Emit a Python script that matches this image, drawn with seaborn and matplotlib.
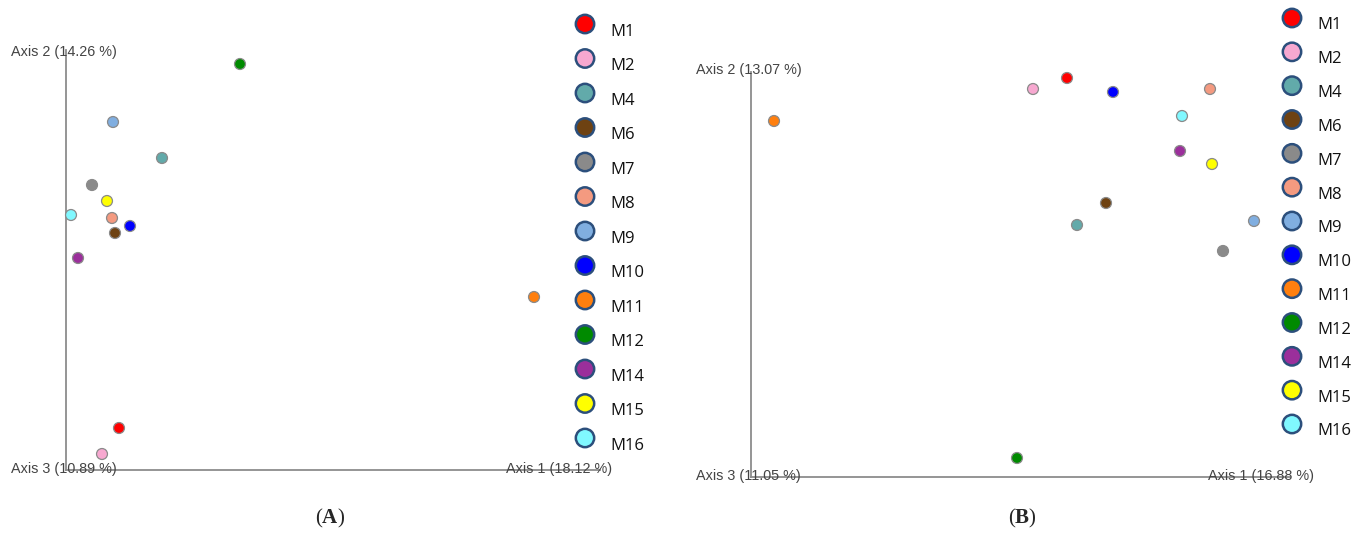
import numpy as np
import pandas as pd
import seaborn as sns
import matplotlib.pyplot as plt

sns.set_style("white")
plt.rcParams['font.family'] = ['Liberation Sans', 'DejaVu Sans']
plt.rcParams['mathtext.fontset'] = 'custom'
plt.rcParams['mathtext.rm'] = 'Liberation Serif'
plt.rcParams['mathtext.bf'] = 'Liberation Serif:bold'

samples = ['M1', 'M2', 'M4', 'M6', 'M7', 'M8', 'M9', 'M10', 'M11', 'M12', 'M14', 'M15', 'M16']
colors = ['#ff0000', '#f7a8d0', '#62aaaa', '#6e4212', '#8a8a8a', '#f49a80', '#80aee0',
          '#0000ff', '#ff7f0e', '#008a00', '#9b2f9b', '#ffff00', '#80f8ff']

# panel A  (Axis 1 vs Axis 2)
a_x = [0.53, 0.36, 0.96, 0.49, 0.26, 0.46, 0.47, 0.64, 4.68, 1.74, 0.12, 0.41, 0.05]
a_y = [0.42, 0.16, 3.12, 2.37, 2.85, 2.52, 3.48, 2.44, 1.73, 4.06, 2.12, 2.69, 2.55]
# panel B
b_x = [3.16, 2.82, 3.26, 3.55, 4.72, 4.59, 5.03, 3.62, 0.23, 2.66, 4.29, 4.61, 4.31]
b_y = [3.99, 3.88, 2.52, 2.74, 2.26, 3.88, 2.56, 3.85, 3.56, 0.19, 3.26, 3.13, 3.61]

labels_a = ['Axis 1 (18.12 %)', 'Axis 2 (14.26 %)', 'Axis 3 (10.89 %)']
labels_b = ['Axis 1 (16.88 %)', 'Axis 2 (13.07 %)', 'Axis 3 (11.05 %)']

W, H = 1371, 534
fig = plt.figure(figsize=(W / 100, H / 100), dpi=100)
pal = dict(zip(samples, colors))


def px_axes(x0, x1, ytop, ybot):
    return fig.add_axes([x0 / W, (H - ybot) / H, (x1 - x0) / W, (ybot - ytop) / H])


def panel(x0, x1, ytop, ybot, xs, ys, labs, tag, tagx, lab1x, lab2y):
    ax = px_axes(x0, x1, ytop, ybot)
    df = pd.DataFrame({'x': xs, 'y': ys, 'sample': samples})
    sns.scatterplot(data=df, x='x', y='y', hue='sample', palette=pal, s=62,
                    edgecolor='#8a8a8a', linewidth=0.9, legend=False, ax=ax, zorder=3,
                    clip_on=False)
    ax.set_xlim(0, (x1 - x0) / 100)
    ax.set_ylim(0, (ybot - ytop) / 100)
    for s in ['top', 'right']:
        ax.spines[s].set_visible(False)
    for s in ['left', 'bottom']:
        ax.spines[s].set_color('#8c8c8c')
        ax.spines[s].set_linewidth(1.3)
    ax.set_xticks([])
    ax.set_yticks([])
    ax.set_xlabel('')
    ax.set_ylabel('')
    ax.patch.set_alpha(0)
    fs = 10.4
    kw = dict(fontsize=fs, color='#444444', va='center', ha='left')
    fig.text((x0 - 55) / W, 1 - lab2y / H, labs[1], **kw)
    fig.text((x0 - 55) / W, 1 - (ybot - 1) / H, labs[2], **kw)
    fig.text(lab1x / W, 1 - (ybot - 1) / H, labs[0], **kw)
    fig.text(tagx / W, 1 - 518 / H, r'$(\mathbf{' + tag + '})$', fontsize=15,
             ha='center', va='center')
    return ax


def legend(cx, ytop, ybot):
    lax = px_axes(cx - 20, cx + 80, ytop, ybot)
    n = len(samples)
    pos = np.arange(n)
    lax.set_xlim(0, 100)
    lax.set_ylim(n - 1, 0)
    lax.scatter(np.full(n, 20), pos, s=175, c=colors, edgecolors='#2c4f7c',
                linewidths=1.8, zorder=3, clip_on=False)
    for i, lab in enumerate(samples):
        lax.text(45, i + 0.22, lab, fontsize=12, color='#111111', va='center', ha='left',
                 family=['Open Sans', 'DejaVu Sans'])
    lax.axis('off')


panel(66, 600, 50, 470, a_x, a_y, labels_a, 'A', 330, 506, 52)
legend(585, 24, 438)
panel(751, 1290, 72, 477, b_x, b_y, labels_b, 'B', 1022, 1208, 70)
legend(1292, 18, 424)

fig.savefig('out.png', dpi=100)
